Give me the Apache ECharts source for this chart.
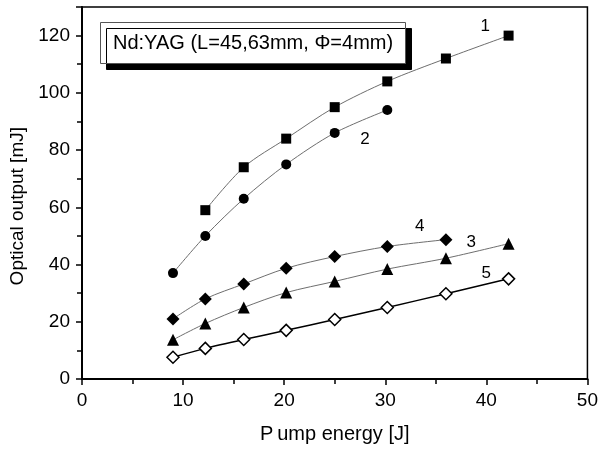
<!DOCTYPE html>
<html>
<head>
<meta charset="utf-8">
<script src="https://cdn.jsdelivr.net/npm/echarts@6/dist/echarts.min.js"></script>
<style>
  html, body { margin: 0; padding: 0; background: #fff; }
  #main { width: 601px; height: 449px; }
</style>
</head>
<body>
<div id="main"></div>
<script>
// pump energy [J]
var pump7 = [9, 12.2, 16, 20.2, 25, 30.2, 36, 42.2];
// optical output [mJ], curves 1..5
var out1 = [null, 59, 74, 84, 95, 104, 112, 120];
var out2 = [37, 50, 63, 75, 86, 94];
var out3 = [13.7, 19.4, 25, 30.2, 34.1, 38.4, 42.2, 47.3];
var out4 = [21, 28, 33.2, 38.7, 42.8, 46.3, 48.7];
var out5 = [7.6, 10.7, 13.8, 17, 20.8, 25, 29.8, 35];
// curve numbers and where they sit (data units)
var curveNames = ["1", "2", "3", "4", "5"];
var curveLabelAt = [[39.9, 123.3], [28, 83.6], [38.5, 47.7], [33.4, 53.2], [40, 37]];

var FONT = "Liberation Sans, Arial, sans-serif";

function pairs(ys) {
  var res = [];
  for (var i = 0; i < ys.length; i++) {
    if (ys[i] != null) res.push([pump7[i], ys[i]]);
  }
  return res;
}

function makeSeries(idx, ys, symbol, size, opts) {
  return Object.assign({
    name: curveNames[idx],
    type: "line",
    data: pairs(ys),
    smooth: 0.3,
    symbol: symbol,
    symbolSize: size,
    showAllSymbol: true,
    lineStyle: { color: "#6e6e6e", width: 1 },
    itemStyle: { color: "#000", borderWidth: 0 },
    z: 3,
    markPoint: {
      symbol: "circle",
      symbolSize: 0,
      silent: true,
      label: {
        show: true, position: "inside", color: "#000",
        fontFamily: FONT, fontSize: 17, formatter: curveNames[idx]
      },
      data: [{ coord: curveLabelAt[idx] }]
    }
  }, opts || {});
}

var chart = echarts.init(document.getElementById("main"));
chart.setOption({
  animation: false,
  backgroundColor: "#fff",
  title: {
    text: "Nd:YAG (L=45,63mm, \u03A6=4mm)",
    left: 100,
    top: 22,
    padding: [11, 13, 11, 13],
    backgroundColor: "#fff",
    borderColor: "#555",
    borderWidth: 1,
    shadowColor: "#000",
    shadowBlur: 0,
    shadowOffsetX: 6,
    shadowOffsetY: 6,
    textStyle: { fontFamily: FONT, fontSize: 20, fontWeight: "normal", color: "#000" }
  },
  grid: {
    left: 82, right: 10, top: 7, bottom: 66,
    show: true, borderColor: "#000", borderWidth: 1.5,
    containLabel: false
  },
  xAxis: {
    type: "value",
    min: 0, max: 50, interval: 10,
    name: "P\u2009ump energy [J]",
    nameLocation: "middle",
    nameGap: 45,
    nameTextStyle: { fontFamily: FONT, fontSize: 20, color: "#000" },
    axisLine: { show: true, lineStyle: { color: "#000", width: 2 } },
    axisTick: { show: true, inside: false, length: 6, lineStyle: { color: "#000", width: 1.5 } },
    minorTick: { show: true, splitNumber: 2, length: 5, lineStyle: { color: "#000", width: 1.5 } },
    splitLine: { show: false },
    axisLabel: { fontFamily: FONT, fontSize: 19, color: "#000", margin: 12, showMinLabel: true, showMaxLabel: true }
  },
  yAxis: {
    type: "value",
    min: 0, max: 130, interval: 20,
    name: "Optical output [mJ]     ",
    nameLocation: "middle",
    nameGap: 55,
    nameRotate: 90,
    nameTextStyle: { fontFamily: FONT, fontSize: 19, color: "#000" },
    axisLine: { show: true, lineStyle: { color: "#000", width: 2 } },
    axisTick: { show: true, inside: false, length: 6, lineStyle: { color: "#000", width: 1.5 } },
    minorTick: { show: true, splitNumber: 2, length: 5, lineStyle: { color: "#000", width: 1.5 } },
    splitLine: { show: false },
    axisLabel: {
      fontFamily: FONT, fontSize: 19, color: "#000", margin: 12,
      showMaxLabel: false,
      formatter: function (v) { return v > 120 ? "" : String(v); }
    }
  },
  series: [
    makeSeries(0, out1, "rect", 10),
    makeSeries(1, out2, "circle", 10),
    makeSeries(2, out3, "triangle", 12),
    makeSeries(3, out4, "diamond", 13),
    makeSeries(4, out5, "diamond", 12, {
      lineStyle: { color: "#000", width: 1.5 },
      itemStyle: { color: "#fff", borderColor: "#000", borderWidth: 1.5 }
    })
  ]
});
</script>
</body>
</html>
